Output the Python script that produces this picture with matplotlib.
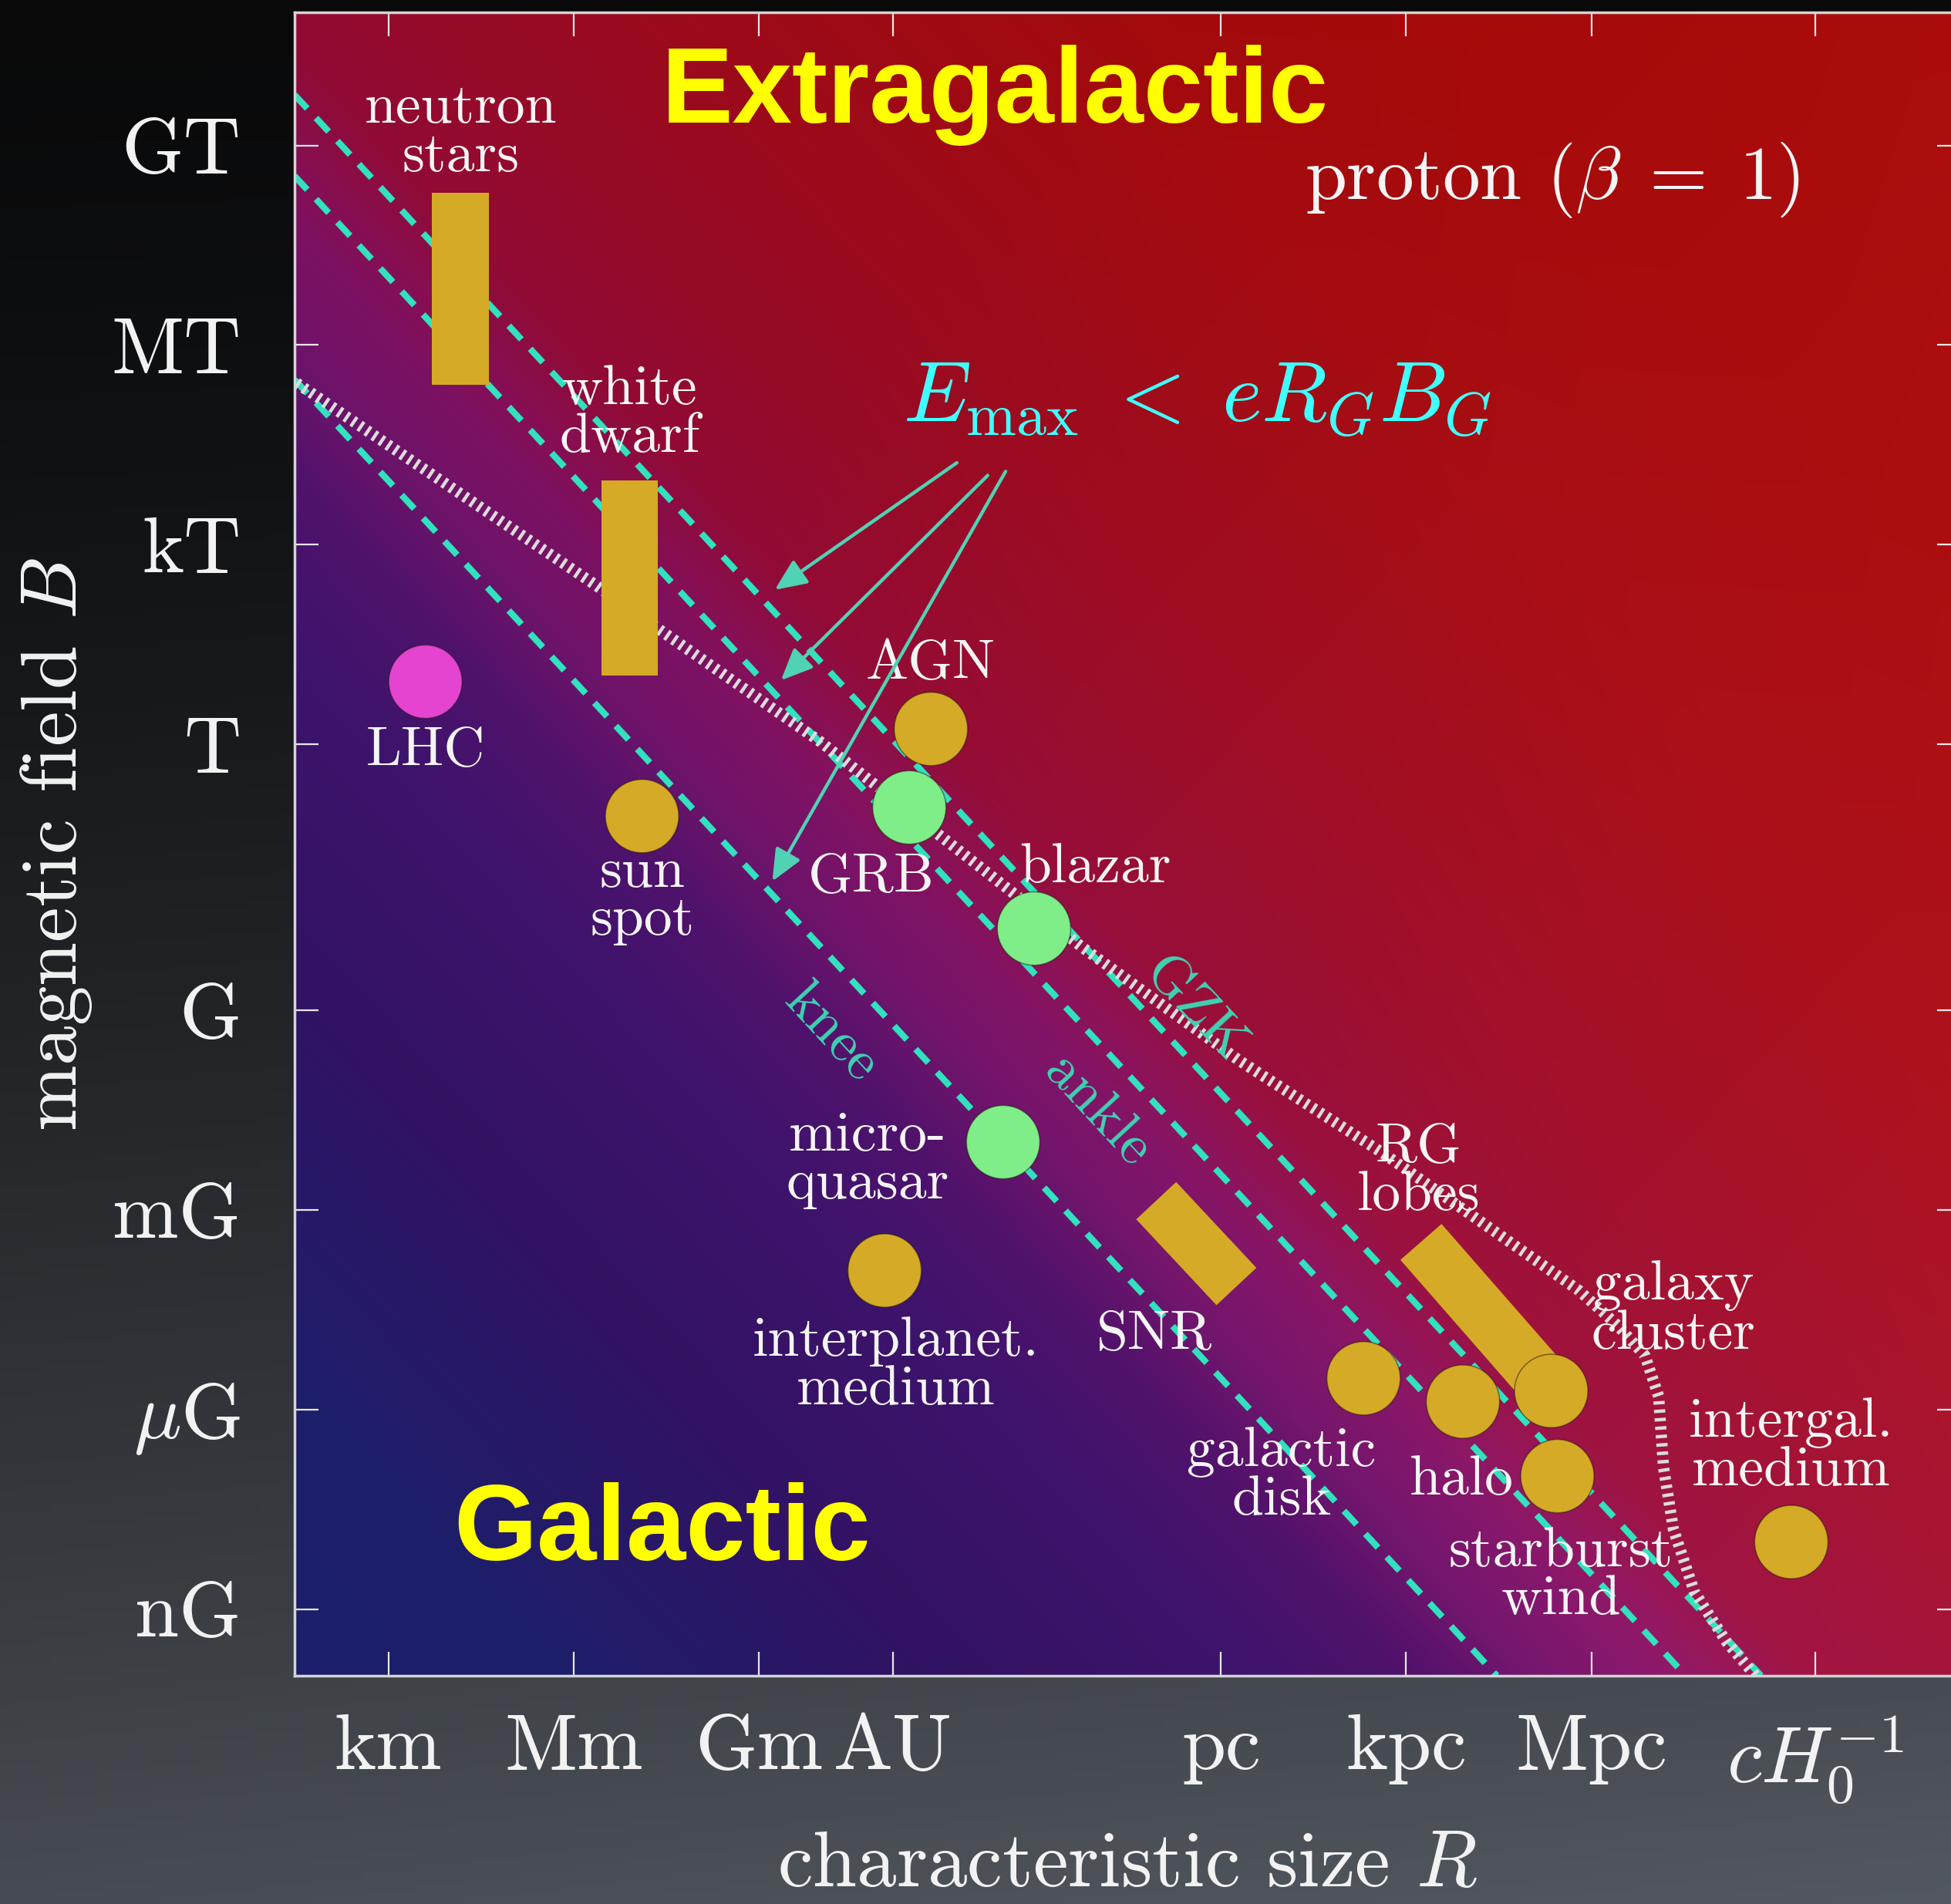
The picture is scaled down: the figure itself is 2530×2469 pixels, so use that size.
import numpy as np
import matplotlib
matplotlib.use('Agg')
import matplotlib.pyplot as plt
from matplotlib.patches import Rectangle

plt.rcParams['font.family'] = 'cmr10'
plt.rcParams['mathtext.fontset'] = 'cm'
plt.rcParams['axes.formatter.use_mathtext'] = True
plt.rcParams['axes.unicode_minus'] = False

# axis ticks in SI units
x_tick_vals = [1e3, 1e6, 1e9, 1.496e11, 3.086e16, 3.086e19, 3.086e22, 1.32e26]  # m
x_tick_labels = ['km', 'Mm', 'Gm', 'AU', 'pc', 'kpc', 'Mpc', r'$cH_0^{-1}$']
y_tick_vals = [1e9, 1e6, 1e3, 1.0, 1e-4, 1e-7, 1e-10, 1e-13]  # T
y_tick_labels = ['GT', 'MT', 'kT', 'T', 'G', 'mG', r'$\mu$G', 'nG']

# sources shown as discs: log10(R/m), log10(B/T)
disc_names = ['LHC', 'sun spot', 'AGN', 'GRB', 'blazar', 'microquasar',
              'interplanet. medium', 'galactic disk', 'halo', 'galaxy cluster',
              'starburst wind', 'intergal. medium']
disc_logR = [3.60, 7.11, 11.79, 11.44, 13.46, 12.96, 11.04, 18.80, 20.41, 21.84, 21.94, 25.73]
disc_logB = [0.94, -1.08, 0.23, -0.95, -2.77, -5.98, -7.91, -9.53, -9.88, -9.72, -11.00, -11.99]
disc_kind = ['lab', 'gold', 'gold', 'green', 'green', 'green',
             'gold', 'gold', 'gold', 'gold', 'gold', 'gold']

# sources shown as boxes (range in R and B)
box_names = ['neutron stars', 'white dwarf']
box_logR = [(3.70, 4.63), (6.45, 7.37)]
box_logB = [(5.40, 8.29), (1.03, 3.96)]

# elongated sources
bar_names = ['SNR', 'RG lobes']
bar_logR = [(15.44, 16.74), (19.73, 21.70)]
bar_logB = [(-6.86, -8.15), (-7.48, -9.57)]

# Hillas limits, log10(R B / T m)
hillas_names = ['knee', 'ankle', 'GZK']
hillas_logRB = [6.96, 10.02, 11.24]

# limit including losses (hatched curve)
loss_logR = [1.40, 6.36, 10.01, 14.24, 16.78, 19.12, 22.29, 22.91, 23.36, 23.58,
             23.66, 23.82, 24.16, 24.68, 25.15, 25.50]
loss_logB = [5.50, 2.39, 0.03, -3.05, -4.75, -6.15, -8.21, -8.73, -9.19, -9.80,
             -10.87, -11.80, -12.74, -13.49, -14.00, -14.30]

xlim = (1.48, 28.48)
ylim = (-14.0, 11.0)

gold = '#d5aa26'
green = '#80ee88'
magenta = '#e444d0'
cyan_line = '#30e2be'
cyan_text = '#3fd2b2'
kind_color = {'gold': gold, 'green': green, 'lab': magenta}

W, H = 2530, 2469
fig = plt.figure(figsize=(W / 100, H / 100), dpi=100)

# dark grey backdrop
bg = fig.add_axes([0, 0, 1, 1], zorder=-10)
t = np.linspace(0, 1, 300)[:, None]
xx = np.linspace(0, 1, 300)[None, :]
val = 9 + 62 * t ** 1.5 + 12 * xx * t
back = np.clip(np.stack([val, val * 1.07, val * 1.16], -1) / 255, 0, 1)
bg.imshow(back, extent=[0, 1, 0, 1], aspect='auto', origin='upper')
bg.axis('off')

ax = fig.add_axes([382 / W, 1 - 2173 / H, 2161 / W, 2157 / H], zorder=1)

# coloured field: blue (low R*B) -> purple -> red (high R*B)
gx = np.linspace(*xlim, 500)
gy = np.linspace(*ylim, 500)
GX, GY = np.meshgrid(gx, gy)
s = GX + GY
v = GX - GY
s_stops = [-13, -8, -2, 3, 5.5, 7.5, 9.2, 10.5, 12, 14.5, 18.5, 25, 31, 40]
rgb_stops = [(26, 30, 108), (30, 30, 106), (50, 18, 100), (62, 20, 108), (80, 18, 108),
             (112, 20, 106), (126, 18, 100), (138, 16, 82), (148, 12, 54), (152, 12, 44),
             (158, 12, 30), (164, 12, 16), (166, 10, 10), (168, 10, 8)]
img = np.stack([np.interp(s, s_stops, ch) for ch in zip(*rgb_stops)], axis=-1)
w = np.clip((s - 6) / 4, 0, 1)
dv = np.clip(v - 10, -5, 30)
img += (w * dv)[..., None] * np.array([0.45, 0.3, 0.45])
ax.imshow(np.clip(img / 255, 0, 1), extent=[*xlim, *ylim], origin='lower',
          aspect='auto', interpolation='bilinear', zorder=0)

# Hillas lines
for rb in hillas_logRB:
    ax.axline((0, rb), slope=-1, color=cyan_line, lw=6, ls=(0, (2.9, 2.0)), zorder=2)

# hatched loss curve
ax.plot(loss_logR, loss_logB, color='#dcdcdc', lw=10.5, ls=(0, (0.3, 0.45)),
        solid_capstyle='butt', dash_capstyle='butt', zorder=2)

# sources
for lr, lb in zip(box_logR, box_logB):
    ax.add_patch(Rectangle((lr[0], lb[0]), lr[1] - lr[0], lb[1] - lb[0],
                           facecolor=gold, edgecolor='none', zorder=3))
for lr, lb in zip(bar_logR, bar_logB):
    ax.plot(lr, lb, color=gold, lw=51, solid_capstyle='butt', zorder=3)
ax.scatter(disc_logR, disc_logB, s=4700, c=[kind_color[k] for k in disc_kind],
           edgecolors=(0.1, 0.05, 0.05, 0.45), linewidths=1.2, zorder=4)

# labels
label_fs = 53
labels = [
    ('neutron\nstars', 4.17, 9.19), ('white\ndwarf', 6.91, 4.97), ('LHC', 3.60, -0.11),
    ('sun\nspot', 7.11, -2.29), ('AGN', 11.79, 1.20), ('GRB', 10.82, -2.01),
    ('blazar', 14.45, -1.86), ('micro-\nquasar', 10.76, -6.25),
    ('interplanet.\nmedium', 11.22, -9.34), ('SNR', 15.41, -8.88),
    ('RG\nlobes', 19.69, -6.43), ('galaxy\ncluster', 23.82, -8.50),
    ('galactic\ndisk', 17.47, -11.0), ('halo', 20.39, -11.06),
    ('starburst\nwind', 22.0, -12.5), ('intergal.\nmedium', 25.73, -10.56),
]
for txt, lx, ly in labels:
    ax.text(lx, ly, txt, color='#f4f4f4', fontsize=label_fs, ha='center', va='center',
            linespacing=0.95, zorder=5)

for name, lx, ly in zip(hillas_names, [10.17, 14.49, 16.06], [-4.34, -5.52, -4.0]):
    ax.text(lx, ly, name, color=cyan_text, fontsize=label_fs, ha='center', va='center',
            rotation=-47.2, rotation_mode='anchor', zorder=5)

ax.text(21.86, 8.48, r'proton $(\beta\;=\;1)$', color='#f4f4f4', fontsize=70,
        ha='center', va='center', zorder=5)
ax.text(16.1, 5.17, r'$E_{\rm max}\;<\;eR_GB_G$', color='#40ffff', fontsize=80,
        ha='center', va='center', zorder=5)

arrow_from = [(12.21, 4.23), (12.71, 4.04), (13.0, 4.10)]
arrow_to = [(9.26, 2.32), (9.36, 0.96), (9.22, -2.06)]
for a0, a1 in zip(arrow_from, arrow_to):
    ax.annotate('', xy=a1, xytext=a0, zorder=5,
                arrowprops=dict(arrowstyle='-|>,head_length=0.5,head_width=0.22',
                                color='#50d2b4', lw=3.2, mutation_scale=50,
                                shrinkA=0, shrinkB=0))

ax.text(12.83, 9.75, 'Extragalactic', color='#ffff00', fontsize=100,
        fontweight='bold', family='Liberation Sans', ha='center', va='center', zorder=6)
ax.text(7.43, -11.84, 'Galactic', color='#ffff00', fontsize=100,
        fontweight='bold', family='Liberation Sans', ha='center', va='center', zorder=6)

# axes
ax.set_xlim(*xlim)
ax.set_ylim(*ylim)
ax.set_xticks(np.log10(x_tick_vals))
ax.set_xticklabels(x_tick_labels)
ax.set_yticks(np.log10(y_tick_vals))
ax.set_yticklabels(y_tick_labels)
ax.tick_params(direction='in', length=22, width=1.6, color='#e8e8e8',
               labelcolor='#f2f2f2', labelsize=74, top=True, right=True)
ax.tick_params(axis='y', pad=50)
ax.tick_params(axis='x', pad=36)
for sp in ax.spines.values():
    sp.set_color('#d4d4d4')
    sp.set_linewidth(2.5)

ax.set_xlabel('characteristic size $R$', fontsize=74, color='#f2f2f2', va='center')
ax.xaxis.set_label_coords(0.5, -0.1145)
ax.set_ylabel('magnetic field $B$', fontsize=74, color='#f2f2f2', va='center')
ax.yaxis.set_label_coords(-0.143, 0.5)

fig.savefig('out.png', dpi=100)
